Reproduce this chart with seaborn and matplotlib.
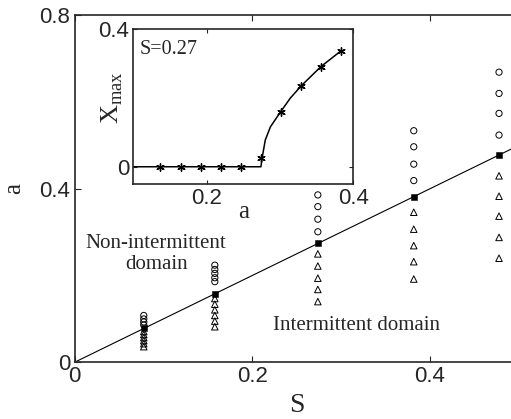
import matplotlib
matplotlib.use('Agg')
import matplotlib.pyplot as plt
import seaborn as sns
import pandas as pd

#%% data
S_cols = [0.078, 0.158, 0.274, 0.382, 0.478]
a_squares = [0.078, 0.158, 0.274, 0.382, 0.478]
a_circles = [[0.108, 0.100, 0.093, 0.086],
             [0.224, 0.214, 0.205, 0.195, 0.186],
             [0.386, 0.359, 0.330, 0.301],
             [0.534, 0.497, 0.457, 0.419],
             [0.669, 0.620, 0.574, 0.524]]
a_triangles = [[0.071, 0.064, 0.057, 0.050, 0.043, 0.036],
               [0.147, 0.134, 0.121, 0.108, 0.095, 0.082],
               [0.250, 0.222, 0.194, 0.168, 0.140],
               [0.346, 0.307, 0.269, 0.232, 0.192],
               [0.430, 0.383, 0.337, 0.288, 0.240]]
line_S = [0.0, 0.5]
line_a = [0.0, 0.5]

# inset (S=0.27)
ins_a_stars = [0.137, 0.165, 0.192, 0.220, 0.247, 0.274, 0.301, 0.329, 0.356, 0.383]
ins_x_stars = [0, 0, 0, 0, 0, 0.024, 0.160, 0.235, 0.291, 0.336]
ins_a_curve = [0.100, 0.274, 0.276, 0.280, 0.287, 0.301, 0.314, 0.329, 0.356, 0.383]
ins_x_curve = [0.0, 0.0, 0.030, 0.078, 0.116, 0.160, 0.199, 0.235, 0.291, 0.336]

rows = []
for s, circ, tri, sq in zip(S_cols, a_circles, a_triangles, a_squares):
    rows += [(s, v, 'circle') for v in circ]
    rows += [(s, v, 'triangle') for v in tri]
    rows.append((s, sq, 'square'))
df = pd.DataFrame(rows, columns=['S', 'a', 'kind'])

#%% style
sns.set_style('ticks')
plt.rcParams['font.family'] = ['Liberation Sans', 'DejaVu Sans']
plt.rcParams['mathtext.fontset'] = 'custom'
plt.rcParams['mathtext.rm'] = 'Liberation Serif'
plt.rcParams['xtick.direction'] = 'in'
plt.rcParams['ytick.direction'] = 'in'
serif = ['Liberation Serif', 'DejaVu Serif']

fig = plt.figure(figsize=(5.11, 4.19), dpi=100)
ax = fig.add_axes([0.1458, 0.1353, 0.869, 0.828])

# diagonal + markers
sns.lineplot(x=line_S, y=line_a, color='k', linewidth=0.8, ax=ax)
sub = df[df['kind'] == 'circle']
sns.scatterplot(x=sub['S'], y=sub['a'], marker='o', s=20, facecolor='none',
                edgecolor='k', linewidth=0.7, ax=ax, zorder=3)
sub = df[df['kind'] == 'triangle']
sns.scatterplot(x=sub['S'], y=sub['a'], marker='^', s=22, facecolor='none',
                edgecolor='k', linewidth=0.7, ax=ax, zorder=3)
sub = df[df['kind'] == 'square']
sns.scatterplot(x=sub['S'], y=sub['a'], marker='s', s=22, color='k',
                edgecolor='k', ax=ax, zorder=4)

ax.set_xlim(0, 0.5)
ax.set_ylim(0, 0.8)
ax.set_xticks([0, 0.2, 0.4])
ax.set_xticklabels(['0', '0.2', '0.4'])
ax.set_yticks([0, 0.4, 0.8])
ax.set_yticklabels(['0', '0.4', '0.8'])
ax.tick_params(labelsize=16, length=4, width=0.8, top=True, right=True, pad=3)
for sp in ax.spines.values():
    sp.set_linewidth(1.2)
ax.set_xlabel('S', fontsize=20, family=serif)
ax.xaxis.set_label_coords(0.5, -0.124)
ax.xaxis.label.set_va('center')
ax.set_ylabel('a', fontsize=18, family=serif)
ax.yaxis.set_label_coords(-0.135, 0.5)
ax.yaxis.label.set_va('center')

ax.text(0.092, 0.25, 'Non-intermittent\ndomain', fontsize=15, family=serif,
        ha='center', va='center', linespacing=1.1)
ax.text(0.317, 0.086, 'Intermittent domain', fontsize=15, family=serif,
        ha='center', va='center')

#%% inset
ins = fig.add_axes([0.2609, 0.5609, 0.4305, 0.370])
sns.lineplot(x=ins_a_curve, y=ins_x_curve, color='k', linewidth=1.1, ax=ins)
sns.scatterplot(x=ins_a_stars, y=ins_x_stars, marker=(6, 2, 0), s=28,
                color='k', edgecolor='k', linewidth=1.0, ax=ins, zorder=3)
ins.set_xlim(0.1, 0.4)
ins.set_ylim(-0.05, 0.4)
ins.set_xticks([0.2, 0.4])
ins.set_xticklabels(['0.2', '0.4'])
ins.set_yticks([0, 0.4])
ins.set_yticklabels(['0', '0.4'])
ins.tick_params(labelsize=16, length=3, width=0.8, top=True, right=True, pad=3)
for sp in ins.spines.values():
    sp.set_linewidth(1.2)
ins.set_xlabel('a', fontsize=18, family=serif)
ins.xaxis.set_label_coords(0.5, -0.18)
ins.xaxis.label.set_va('center')
ins.text(-0.097, 0.56, r'$\mathrm{X}_{\mathrm{max}}$', fontsize=19, rotation=90,
         transform=ins.transAxes, ha='center', va='center')
ins.text(0.03, 0.93, 'S=0.27', fontsize=14.5, family=serif,
         transform=ins.transAxes, ha='left', va='top')

plt.savefig('out.png', dpi=100)
